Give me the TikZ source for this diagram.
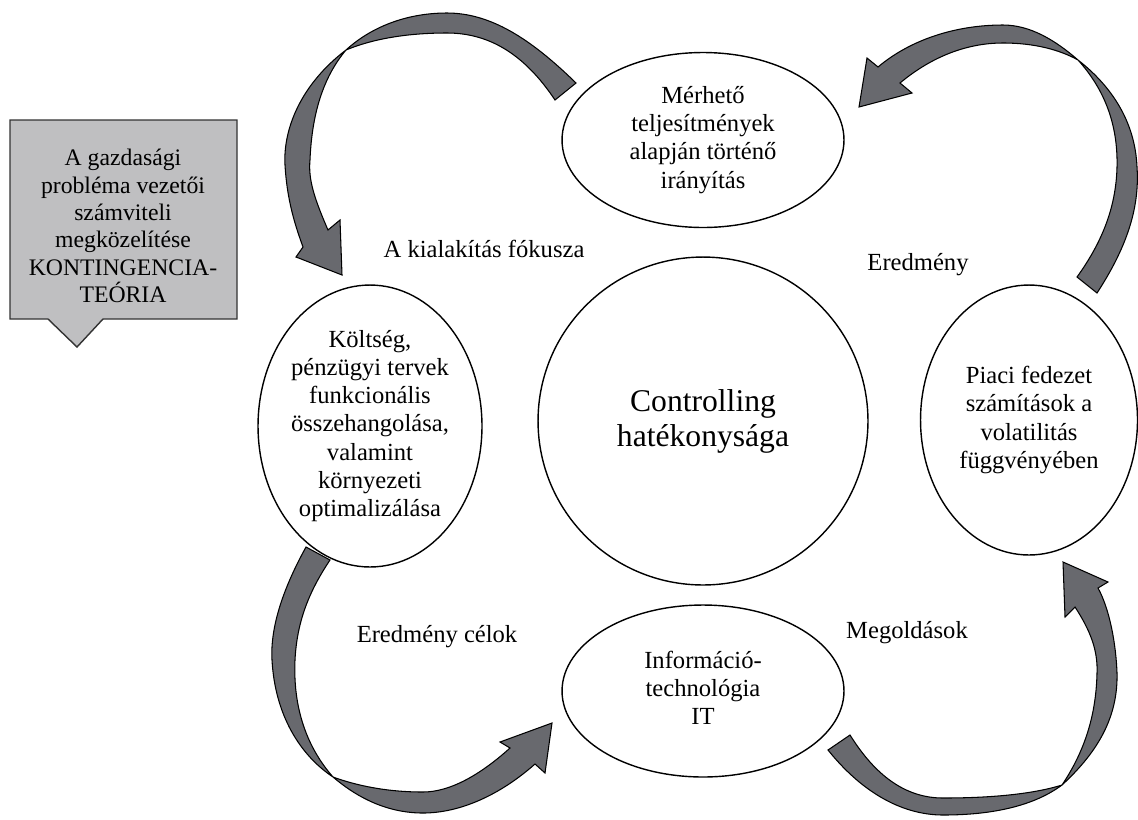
\documentclass[tikz,border=0pt]{standalone}
\usepackage{fontspec}
\setmainfont{Liberation Serif}
\usetikzlibrary{shapes.geometric}
\definecolor{bandgray}{RGB}{104,105,110}
\definecolor{boxgray}{RGB}{191,191,193}

\begin{document}
\begin{tikzpicture}[x=0.02cm,y=-0.02cm,
	bubble/.style={ellipse,draw,line width=0.8pt,inner sep=0pt,align=center,font=\fontsize{14}{16}\selectfont},
	lbl/.style={anchor=base,font=\fontsize{14}{16}\selectfont},
	band/.style={fill=bandgray,draw=black,line width=0.6pt,line join=miter}]
	\useasboundingbox (0,0) rectangle (1138,819);

	% callout
	\draw[fill=boxgray,draw=black!80,line width=0.8pt] (10,120) -- (237,120) -- (237,319) -- (103,319) -- (77,347) -- (48,319) -- (10,319) -- cycle;
	\node[align=center,font=\fontsize{13.5}{15.6}\selectfont] (kont) at (123,226) {A gazdasági\\probléma vezetői\\számviteli\\megközelítése\\KONTINGENCIA-\\TEÓRIA};

	% ellipses
	\node[bubble,minimum width=5.64cm,minimum height=3.5cm] (meres) at (703,140) {Mérhető\\teljesítmények\\alapján történő\\irányítás};
	\node[bubble,minimum width=6.6cm,minimum height=6.56cm,font=\fontsize{18}{20}\selectfont] (contr) at (703,421) {Controlling\\hatékonysága};
	\node[bubble,minimum width=4.48cm,minimum height=5.64cm] (koltseg) at (370,426) {Költség,\\pénzügyi tervek\\funkcionális\\összehangolása,\\valamint\\környezeti\\optimalizálása};
	\node[bubble,minimum width=4.34cm,minimum height=5.4cm] (piaci) at (1029,420) {Piaci fedezet\\számítások a\\volatilitás\\függvényében};
	\node[bubble,minimum width=5.64cm,minimum height=3.44cm] (it) at (703,691) {\raisebox{-0.12cm}{\begin{tabular}{@{}c@{}}Információ-\\technológia\\IT\end{tabular}}};

	% labels
	\node[lbl] (fokusz) at (484,257) {A kialakítás fókusza};
	\node[lbl] (ered) at (918,270) {Eredmény};
	\node[lbl] (celok) at (437,642) {Eredmény célok};
	\node[lbl] (megold) at (907,638) {Megoldások};

	% top left band
	\draw[band] (576,83) .. controls (530,38) and (490,13) .. (447,13)
		.. controls (405,13) and (370,28) .. (346,50)
		.. controls (300,85) and (283,130) .. (285,165)
		.. controls (287,200) and (295,225) .. (303,247)
		-- (296,257) -- (342,275) -- (340,220) -- (328,230)
		.. controls (315,200) and (308,180) .. (310,160)
		.. controls (312,110) and (325,75) .. (346,50)
		.. controls (375,38) and (410,33) .. (447,33)
		.. controls (490,33) and (525,55) .. (555,100) -- cycle;

	% top right band
	\draw[band] (1097,293) .. controls (1125,250) and (1140,210) .. (1137,167)
		.. controls (1135,120) and (1110,85) .. (1078,60)
		.. controls (1055,40) and (1030,25) .. (1003,25)
		.. controls (955,25) and (910,40) .. (878,67)
		-- (867,58) -- (859,107) -- (912,93) -- (900,83)
		.. controls (930,58) and (965,43) .. (1003,43)
		.. controls (1035,43) and (1060,50) .. (1078,60)
		.. controls (1105,90) and (1118,125) .. (1117,167)
		.. controls (1116,210) and (1100,245) .. (1077,277) -- cycle;

	% bottom left band
	\draw[band] (306,547) .. controls (285,585) and (270,625) .. (272,660)
		.. controls (275,715) and (300,755) .. (333,777)
		.. controls (360,800) and (390,813) .. (423,813)
		.. controls (460,813) and (500,795) .. (535,764)
		-- (545,773) -- (552,723) -- (500,742) -- (510,748)
		.. controls (480,775) and (450,792) .. (423,792)
		.. controls (385,792) and (355,785) .. (333,777)
		.. controls (305,745) and (293,705) .. (295,660)
		.. controls (297,620) and (310,590) .. (330,560) -- cycle;

	% bottom right band
	\draw[band] (828,750) .. controls (860,790) and (900,815) .. (943,815)
		.. controls (995,815) and (1035,805) .. (1062,785)
		.. controls (1100,750) and (1118,715) .. (1117,673)
		.. controls (1116,645) and (1110,610) .. (1098,588)
		-- (1108,582) -- (1063,562) -- (1065,617) -- (1075,607)
		.. controls (1090,630) and (1098,650) .. (1097,673)
		.. controls (1096,720) and (1082,755) .. (1062,785)
		.. controls (1030,795) and (985,798) .. (943,798)
		.. controls (905,798) and (875,775) .. (850,735) -- cycle;
\end{tikzpicture}
\end{document}
